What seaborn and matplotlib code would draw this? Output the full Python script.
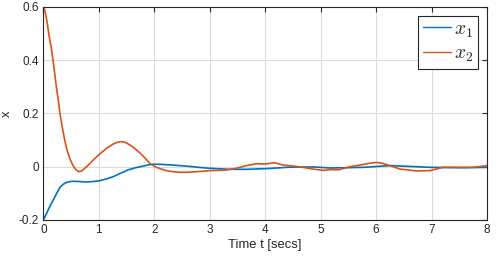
import numpy as np
import pandas as pd
import matplotlib
matplotlib.use("Agg")
import matplotlib.pyplot as plt
import seaborn as sns

# -----------------
# data
# -----------------
t_x1 = [0, 0.03, 0.06, 0.10, 0.14, 0.18, 0.24, 0.30, 0.36, 0.42, 0.48, 0.54,
        0.66, 0.78, 0.90, 1.02, 1.14, 1.26, 1.38, 1.53, 1.66, 1.80, 1.90,
        1.98, 2.10, 2.34, 2.64, 2.82, 3.0, 3.36, 3.66, 4.0, 4.44, 4.86, 5.17,
        5.77, 6.25, 6.61, 6.97, 7.57, 8.0]
x1 = [-0.2, -0.188, -0.175, -0.157, -0.140, -0.125, -0.100, -0.078, -0.066,
      -0.059, -0.056, -0.055, -0.056, -0.0575, -0.056, -0.0525, -0.046,
      -0.0375, -0.026, -0.012, -0.004, 0.002, 0.007, 0.009, 0.009, 0.006,
      0.001, -0.003, -0.006, -0.010, -0.010, -0.0075, -0.002, -0.001, -0.005,
      -0.0025, 0.004, 0.001, -0.0025, -0.004, -0.0025]

t_x2 = [0, 0.02, 0.04, 0.07, 0.10, 0.14, 0.175, 0.205, 0.235, 0.27, 0.30,
        0.34, 0.385, 0.43, 0.487, 0.54, 0.59, 0.64, 0.69, 0.75, 0.82, 0.90,
        1.02, 1.14, 1.26, 1.33, 1.40, 1.47, 1.55, 1.62, 1.68, 1.75, 1.82, 1.92,
        2.01, 2.10, 2.22, 2.34, 2.46, 2.60, 2.76, 3.0, 3.30, 3.48, 3.66, 3.84,
        4.0, 4.17, 4.32, 4.50, 4.68, 4.86, 5.05, 5.17, 5.32, 5.53, 5.71, 5.86,
        6.0, 6.10, 6.22, 6.43, 6.73, 6.97, 7.21, 7.45, 7.75, 8.0]
x2 = [0.6, 0.592, 0.574, 0.540, 0.497, 0.450, 0.400, 0.350, 0.300, 0.250,
      0.200, 0.150, 0.100, 0.060, 0.025, 0.003, -0.012, -0.019, -0.016,
      -0.006, 0.008, 0.025, 0.048, 0.069, 0.085, 0.091, 0.094, 0.092, 0.083,
      0.073, 0.063, 0.050, 0.035, 0.0125, 0.0, -0.007, -0.015, -0.019, -0.021,
      -0.021, -0.019, -0.015, -0.0125, -0.006, 0.004, 0.011, 0.010, 0.015,
      0.006, 0.0025, -0.0025, -0.009, -0.014, -0.011, -0.012, 0.0, 0.006,
      0.012, 0.016, 0.013, 0.006, -0.009, -0.016, -0.015, -0.0025, -0.0025,
      -0.0025, 0.004]

series_labels = ["$x_1$", "$x_2$"]
colors = ["#0072BD", "#D95319"]

# -----------------
# plot
# -----------------
sns.set_style("white")
plt.rcParams["font.family"] = ["Liberation Sans", "DejaVu Sans"]
plt.rcParams["mathtext.fontset"] = "cm"

fig = plt.figure(figsize=(4.98, 2.59), dpi=100)
ax = fig.add_axes([0.087, 0.151, 0.891, 0.822])

df1 = pd.DataFrame({"t": t_x1, "x": x1})
df2 = pd.DataFrame({"t": t_x2, "x": x2})
sns.lineplot(data=df1, x="t", y="x", ax=ax, color=colors[0], lw=1.2,
             label=series_labels[0])
sns.lineplot(data=df2, x="t", y="x", ax=ax, color=colors[1], lw=1.2,
             label=series_labels[1])

ax.set_xlim(0, 8)
ax.set_ylim(-0.2, 0.6)
ax.set_xticks(range(0, 9))
ax.set_yticks([-0.2, 0, 0.2, 0.4, 0.6])
ax.set_yticklabels(["-0.2", "0", "0.2", "0.4", "0.6"])
ax.grid(True, color="#dcdcdc", lw=0.8)
ax.tick_params(direction="in", length=3.5, width=0.8, labelsize=8.5,
               top=True, right=True, colors="#262626", pad=3)
for s in ax.spines.values():
    s.set_color("#262626")
    s.set_linewidth(0.8)

ax.set_xlabel("Time t [secs]", fontsize=9.4, color="#262626", labelpad=2)
ax.set_ylabel("x", fontsize=9.4, color="#262626", labelpad=4)

leg = ax.legend(loc="upper right", fontsize=14, fancybox=False,
                edgecolor="#262626", framealpha=1, handlelength=1.45,
                handletextpad=0.15, borderpad=0.25, labelspacing=0.3,
                borderaxespad=0.45)
leg.get_frame().set_linewidth(0.8)
for line in leg.get_lines():
    line.set_linewidth(1.0)

fig.savefig("out.png", dpi=100)
